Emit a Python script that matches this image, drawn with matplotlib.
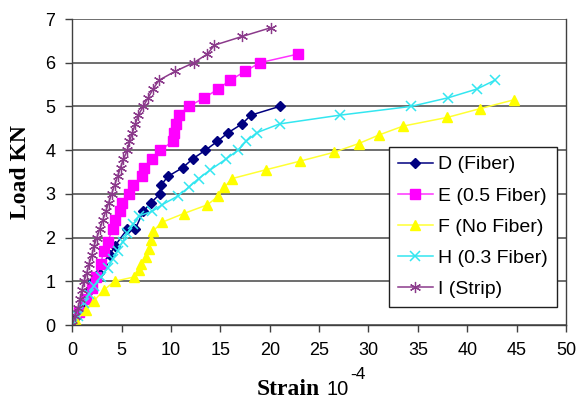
import matplotlib
matplotlib.use('Agg')
import matplotlib.pyplot as plt

# Strain (x10^-4) and load (kN) for each specimen
d_strain = [0, 0.5, 1.0, 1.4, 1.8, 2.1, 2.7, 3.0, 3.8, 4.3, 5.6, 6.4, 7.2, 8.0, 8.9, 9.0, 9.7, 11.2, 12.2, 13.5, 14.7, 15.8, 17.2, 18.1, 21.0]
d_load = [0, 0.2, 0.4, 0.6, 0.8, 1.0, 1.2, 1.4, 1.6, 1.8, 2.2, 2.2, 2.6, 2.8, 3.0, 3.2, 3.4, 3.6, 3.8, 4.0, 4.2, 4.4, 4.6, 4.8, 5.0]

e_strain = [0, 0.7, 1.4, 2.0, 2.4, 2.9, 3.2, 3.6, 4.1, 4.3, 4.8, 5.0, 5.8, 6.2, 7.1, 7.3, 8.1, 8.9, 10.2, 10.3, 10.5, 10.8, 11.8, 13.4, 14.8, 16.0, 17.5, 19.0, 22.9]
e_load = [0, 0.3, 0.6, 0.85, 1.1, 1.4, 1.7, 1.9, 2.2, 2.4, 2.6, 2.8, 3.0, 3.2, 3.4, 3.6, 3.8, 4.0, 4.2, 4.4, 4.6, 4.8, 5.0, 5.2, 5.4, 5.6, 5.8, 6.0, 6.2]

f_strain = [0, 0.4, 1.4, 2.2, 3.2, 4.3, 6.3, 6.8, 7.0, 7.5, 7.8, 8.0, 8.2, 9.1, 11.3, 13.7, 14.8, 15.4, 16.2, 19.6, 23.1, 26.5, 29.0, 31.1, 33.5, 38.0, 41.3, 44.7]
f_load = [0, 0.1, 0.35, 0.55, 0.8, 1.0, 1.1, 1.25, 1.4, 1.55, 1.75, 1.95, 2.15, 2.35, 2.55, 2.75, 2.95, 3.15, 3.35, 3.55, 3.75, 3.95, 4.15, 4.35, 4.55, 4.75, 4.95, 5.15]

h_strain = [0, 0.6, 1.2, 1.7, 2.2, 2.9, 3.6, 4.1, 4.6, 5.1, 5.6, 6.2, 6.8, 8.1, 9.1, 10.7, 11.8, 12.8, 14.0, 15.6, 16.8, 17.6, 18.7, 21.0, 27.1, 34.3, 38.1, 41.0, 42.8]
h_load = [0, 0.2, 0.5, 0.7, 0.9, 1.1, 1.3, 1.5, 1.7, 1.9, 2.1, 2.3, 2.5, 2.6, 2.75, 2.95, 3.15, 3.35, 3.55, 3.8, 4.0, 4.2, 4.4, 4.6, 4.8, 5.0, 5.2, 5.4, 5.6]

i_strain = [0, 0.3, 0.6, 0.8, 1.0, 1.2, 1.5, 1.7, 2.0, 2.2, 2.5, 2.8, 3.1, 3.4, 3.7, 4.0, 4.3, 4.6, 4.9, 5.2, 5.6, 5.8, 6.1, 6.4, 6.7, 7.2, 7.7, 8.2, 8.8, 10.4, 12.3, 13.7, 14.4, 17.2, 20.1]
i_load = [0, 0.2, 0.4, 0.6, 0.8, 1.0, 1.2, 1.4, 1.6, 1.8, 2.0, 2.2, 2.4, 2.6, 2.8, 3.0, 3.2, 3.4, 3.6, 3.8, 4.0, 4.2, 4.4, 4.6, 4.8, 5.0, 5.2, 5.4, 5.6, 5.8, 6.0, 6.2, 6.4, 6.6, 6.8]

labels = ['D (Fiber)', 'E (0.5 Fiber)', 'F (No Fiber)', 'H (0.3 Fiber)', 'I (Strip)']
x_ticks = list(range(0, 55, 5))
y_ticks = list(range(0, 8))

plt.rcParams['font.family'] = ['Liberation Sans', 'DejaVu Sans']

fig = plt.figure(figsize=(5.77, 4.0), dpi=100)
ax = fig.add_axes([0.125, 0.1875, 0.856, 0.765])

ax.plot(d_strain, d_load, color='#000080', lw=1.1, marker='D', ms=5, label=labels[0])
ax.plot(e_strain, e_load, color='#ff33ff', lw=1.1, marker='s', ms=7, mfc='#ff00ff', mec='#ff00ff', label=labels[1])
ax.plot(f_strain, f_load, color='#ffff33', lw=1.1, marker='^', ms=7.5, mfc='#ffff00', mec='#ffff00', label=labels[2])
ax.plot(h_strain, h_load, color='#33e6f0', lw=1.1, marker='x', ms=7, mew=1.1, label=labels[3])
ax.plot(i_strain, i_load, color='#8b3a8b', lw=1.1, marker=(6, 2, 0), ms=8, mew=0.9, label=labels[4])

ax.set_xlim(0, 50)
ax.set_ylim(0, 7)
ax.set_xticks(x_ticks)
ax.set_yticks(y_ticks)
ax.tick_params(labelsize=13, length=5, width=1, color='#404040', pad=7)
ax.grid(axis='y', color='#555555', lw=1.2)
ax.set_axisbelow(True)
for side in ['left', 'bottom', 'right']:
    ax.spines[side].set_color('#404040')
    ax.spines[side].set_linewidth(1)
ax.spines['top'].set_visible(False)

ax.set_ylabel('Load KN', family='Liberation Serif', fontweight='bold', fontsize=17, labelpad=10)

fig.text(0.444, 0.012, 'Strain', family='Liberation Serif', fontweight='bold', fontsize=17, va='baseline')
fig.text(0.566, 0.012, '10', fontsize=14.5, va='baseline')
fig.text(0.607, 0.053, '-4', fontsize=12.5, va='baseline')

leg = ax.legend(loc='upper left', bbox_to_anchor=(0.674, 0.6325), bbox_transform=fig.transFigure,
                fontsize=14, frameon=True, fancybox=False, framealpha=1, edgecolor='#202020',
                handlelength=1.8, handletextpad=0.3, labelspacing=0.7, borderpad=0.45, borderaxespad=0)
leg.get_frame().set_linewidth(1)

fig.savefig('out.png', dpi=100)
